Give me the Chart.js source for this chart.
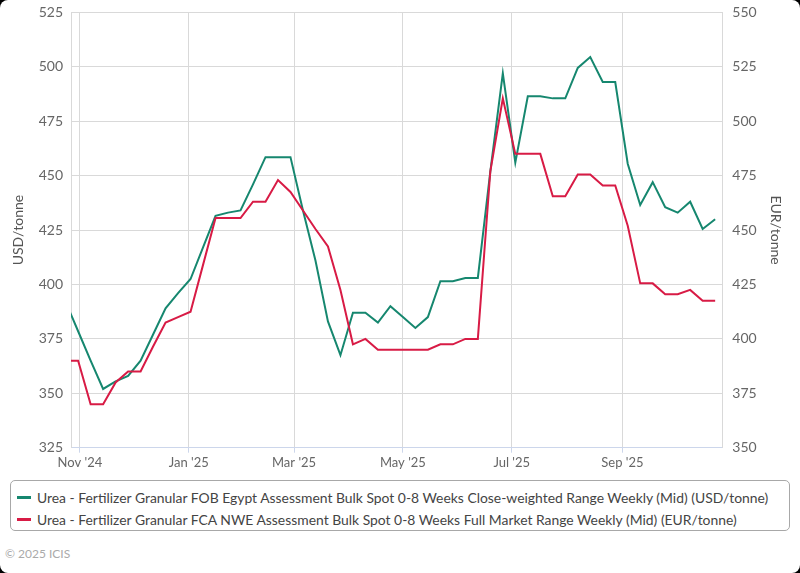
<!DOCTYPE html>
<html><head><meta charset="utf-8">
<script src="https://cdn.jsdelivr.net/npm/chart.js@4.4.1/dist/chart.umd.min.js"></script>
<style>
html,body{margin:0;padding:0;background:#000;}
#wrap{position:relative;width:800px;height:573px;background:#fff;border-radius:8px;overflow:hidden;font-family:Lato, "Open Sans", sans-serif;}
#cv{position:absolute;left:0;top:-6px;}
#legend{position:absolute;left:10px;top:480px;width:780px;height:51px;border:1px solid #a8a8a8;border-radius:5px;box-sizing:border-box;}
.item{position:absolute;left:0;height:20px;display:flex;align-items:center;font-size:13.9px;color:#444;white-space:nowrap;}
.sw{display:inline-block;width:14px;height:3px;margin:0 6px 0 6px;}
#footer{position:absolute;left:5px;top:546px;font-size:12px;color:#aaa;}
</style></head>
<body><div id="wrap"><canvas id="cv" width="800" height="476"></canvas><div id="legend"></div><div id="footer">© 2025 ICIS</div></div>
<script>
const weekDates = ['2024-10-24','2024-10-31','2024-11-07','2024-11-14','2024-11-21','2024-11-28','2024-12-05','2024-12-12','2024-12-19','2024-12-26',
 '2025-01-02','2025-01-09','2025-01-16','2025-01-23','2025-01-30','2025-02-06','2025-02-13','2025-02-20','2025-02-27','2025-03-06',
 '2025-03-13','2025-03-20','2025-03-27','2025-04-03','2025-04-10','2025-04-17','2025-04-24','2025-05-01','2025-05-08','2025-05-15',
 '2025-05-22','2025-05-29','2025-06-05','2025-06-12','2025-06-19','2025-06-26','2025-07-03','2025-07-10','2025-07-17','2025-07-24',
 '2025-07-31','2025-08-07','2025-08-14','2025-08-21','2025-08-28','2025-09-04','2025-09-11','2025-09-18','2025-09-25','2025-10-02',
 '2025-10-09','2025-10-16','2025-10-23'];
const usdEgypt = [392,378.5,365,352,355.5,358,365,377,389,396,
 402.5,417,431.5,433,434,446,458.5,458.5,458.5,434,
 411,383,367.5,387,387,382.5,390,385,380,385,
 401.5,401.5,403,403,452,497,456,486.5,486.5,485.5,
 485.5,499.5,504.5,493,493,455.5,436.5,447,435.5,433,
 438,425.5,430];
const eurNWE = [390,390,370,370,380,385,385,396.5,407.5,410,
 412.5,434,455.5,455.5,455.5,463,463,473,467.5,459,
 450.5,442.5,422.5,397.5,400,395,395,395,395,395,
 397.5,397.5,400,400,477,510.5,485,485,485,465.5,
 465.5,475.5,475.5,470.5,470.5,452,425.5,425.5,420.5,420.5,
 422.5,417.5,417.5];
const seriesNames = ['Urea - Fertilizer Granular FOB Egypt Assessment Bulk Spot 0-8 Weeks Close-weighted Range Weekly (Mid) (USD/tonne)',
 'Urea - Fertilizer Granular FCA NWE Assessment Bulk Spot 0-8 Weeks Full Market Range Weekly (Mid) (EUR/tonne)'];
const seriesColors = ['#16876f','#d81b45'];
const monthTickDates = ['2024-11-01','2025-01-01','2025-03-01','2025-05-01','2025-07-01','2025-09-01'];
const monthTickLabels = ["Nov '24","Jan '25","Mar '25","May '25","Jul '25","Sep '25"];
const xRange = ['2024-10-27','2025-10-27'];
const usdRange = [325,525];
const eurRange = [350,550];
const axisTitles = ['USD/tonne','EUR/tonne'];

const ms = d => Date.parse(d);
const gridCol = '#d9d9d9';
const tickFont = {family:'Lato', size:14};

new Chart(document.getElementById('cv'), {
  type:'line',
  data:{datasets:[
    {label:seriesNames[0], data:weekDates.map((d,i)=>({x:ms(d),y:usdEgypt[i]})), borderColor:seriesColors[0], backgroundColor:seriesColors[0], borderWidth:2, pointRadius:0, tension:0, yAxisID:'y', order:1},
    {label:seriesNames[1], data:weekDates.map((d,i)=>({x:ms(d),y:eurNWE[i]})), borderColor:seriesColors[1], backgroundColor:seriesColors[1], borderWidth:2, pointRadius:0, tension:0, yAxisID:'y1', order:0}
  ]},
  options:{
    responsive:false, animation:false,
    layout:{padding:{left:6,right:12,top:6,bottom:0}},
    plugins:{legend:{display:false}, tooltip:{enabled:false}},
    scales:{
      x:{type:'linear', min:ms(xRange[0]), max:ms(xRange[1]),
        afterBuildTicks:s=>{s.ticks = monthTickDates.map(d=>({value:ms(d)}));},
        afterFit:s=>{s.height=22.3;},
        ticks:{autoSkip:false, maxRotation:0, color:'#666', font:{family:'Lato',size:13}, padding:2,
          callback:(v,i)=>monthTickLabels[i]},
        grid:{color:gridCol, lineWidth:1, drawTicks:true, tickLength:5, tickColor:'#ccd6eb'},
        border:{display:true, color:'#ccd6eb', width:1}
      },
      y:{position:'left', min:usdRange[0], max:usdRange[1],
        afterFit:s=>{s.width=65;},
        ticks:{stepSize:25, color:'#666', font:tickFont, padding:8},
        grid:{color:gridCol, drawTicks:false},
        border:{display:true, color:gridCol},
        title:{display:true, text:axisTitles[0], color:'#555', font:{family:'Lato',size:14}, padding:{top:4,bottom:0}}
      },
      y1:{position:'right', min:eurRange[0], max:eurRange[1],
        afterFit:s=>{s.width=65.7;},
        ticks:{stepSize:25, color:'#666', font:tickFont, padding:10},
        grid:{drawOnChartArea:false, drawTicks:false},
        border:{display:true, color:gridCol},
        title:{display:true, text:axisTitles[1], color:'#555', font:{family:'Lato',size:14}, padding:{top:4,bottom:0}}
      }
    }
  }
});

const lg = document.getElementById('legend');
seriesNames.forEach((n,i)=>{
  const it = document.createElement('div');
  it.className='item';
  it.style.top = (i===0 ? 6 : 28)+'px';
  it.innerHTML = '<span class="sw" style="background:'+seriesColors[i]+'"></span><span></span>';
  it.lastChild.textContent = n;
  lg.appendChild(it);
});
</script>
</body></html>
